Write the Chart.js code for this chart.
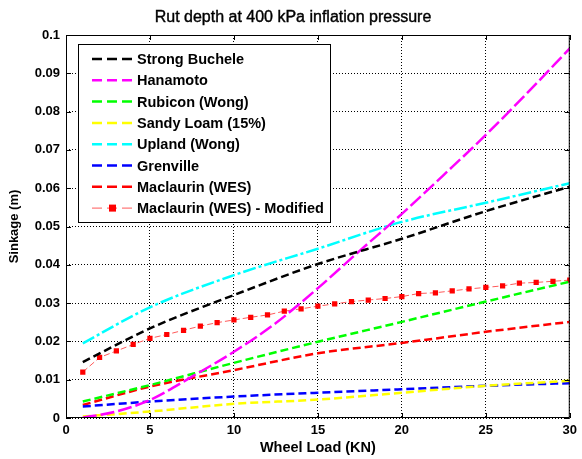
<!DOCTYPE html>
<html>
<head>
<meta charset="utf-8">
<script src="https://cdn.jsdelivr.net/npm/chart.js@4/dist/chart.umd.min.js"></script>
<style>
  html, body { margin: 0; background: #fff; }
  #wrap { width: 582px; height: 459px; }
</style>
</head>
<body>
<div id="wrap"><canvas id="c"></canvas></div>
<script>
// values (wheel load in KN, sinkage in m)
const loads = [1, 5, 10, 15, 20, 25, 30];
const strongBuchele = [0.0146, 0.0234, 0.0321, 0.0402, 0.0468, 0.0540, 0.0604];
const rubicon = [0.0043, 0.0086, 0.0144, 0.0199, 0.0251, 0.0304, 0.0356];
const sandyLoam = [0.0004, 0.0017, 0.0037, 0.0048, 0.0066, 0.0084, 0.0097];
const upland = [0.0195, 0.0289, 0.0373, 0.0442, 0.0512, 0.0562, 0.0613];
const grenville = [0.0030, 0.0043, 0.0056, 0.0066, 0.0075, 0.0084, 0.0091];
const maclaurin = [0.0034, 0.0082, 0.0125, 0.0169, 0.0196, 0.0225, 0.0251];

const hanLoads = [1, 3, 5, 7.5, 10, 12.5, 15, 17.5, 20, 22.5, 25, 27.5, 30];
const hanamoto = [0.0001, 0.0017, 0.0047, 0.0108, 0.0173, 0.0248, 0.0339, 0.0437, 0.0533, 0.0635, 0.0739, 0.0850, 0.0965];

const modLoads = [1, 2, 3, 4, 5, 6, 7, 8, 9, 10, 11, 12, 13, 14, 15, 16, 17, 18, 19, 20, 21, 22, 23, 24, 25, 26, 27, 28, 29, 30];
const maclaurinMod = [0.0120, 0.0158, 0.0175, 0.0192, 0.0208, 0.0218, 0.0229, 0.0240, 0.0249, 0.0256,
  0.0263, 0.0269, 0.0279, 0.0285, 0.0292, 0.0298, 0.0304, 0.0308, 0.0312, 0.0317,
  0.0325, 0.0327, 0.0332, 0.0337, 0.0341, 0.0345, 0.0352, 0.0354, 0.0357, 0.0360];

const xTicks = [0, 5, 10, 15, 20, 25, 30];
const yTicks = [0, 0.01, 0.02, 0.03, 0.04, 0.05, 0.06, 0.07, 0.08, 0.09, 0.1];

const pts = (xs, ys) => xs.map((x, i) => ({ x, y: ys[i] }));
const FONT = '"Liberation Sans", Arial, Helvetica, sans-serif';

const series = [
  { label: 'Strong Buchele', data: pts(loads, strongBuchele), color: '#000000', dash: [8, 4] },
  { label: 'Hanamoto', data: pts(hanLoads, hanamoto), color: '#ff00ff', dash: [14, 4] },
  { label: 'Rubicon (Wong)', data: pts(loads, rubicon), color: '#00ff00', dash: [8, 4] },
  { label: 'Sandy Loam (15%)', data: pts(loads, sandyLoam), color: '#ffff00', dash: [8, 4] },
  { label: 'Upland (Wong)', data: pts(loads, upland), color: '#00ffff', dash: [13, 3, 3, 3] },
  { label: 'Grenville', data: pts(loads, grenville), color: '#0000ff', dash: [8, 4] },
  { label: 'Maclaurin (WES)', data: pts(loads, maclaurin), color: '#ff0000', dash: [8, 4] },
];

const datasets = series.map(s => ({
  label: s.label, data: s.data, borderColor: s.color, borderDash: s.dash,
  borderWidth: 2.5, pointRadius: 0, cubicInterpolationMode: 'monotone', fill: false,
}));
datasets.push({
  label: 'Maclaurin (WES) - Modified', data: pts(modLoads, maclaurinMod),
  borderColor: '#ff5a5a', borderWidth: 1, borderDash: [6, 3],
  pointStyle: 'rect', pointRadius: 3.7, pointBackgroundColor: '#ff0000', pointBorderColor: '#ff0000',
  pointBorderWidth: 0, fill: false,
});

// box, inward ticks, legend and title in MATLAB style
const frame = {
  id: 'frame',
  afterDatasetsDraw(ch) {
    const { ctx, chartArea: a, scales: { x, y } } = ch;
    ctx.save();
    ctx.strokeStyle = '#000'; ctx.lineWidth = 1; ctx.setLineDash([]);
    ctx.strokeRect(a.left + 0.5, a.top + 0.5, a.right - a.left - 1, a.bottom - a.top - 1);
    ctx.beginPath();
    xTicks.forEach(v => {
      const px = Math.round(x.getPixelForValue(v)) + 0.5;
      ctx.moveTo(px, a.bottom); ctx.lineTo(px, a.bottom - 5);
      ctx.moveTo(px, a.top); ctx.lineTo(px, a.top + 5);
    });
    yTicks.forEach(v => {
      const py = Math.round(y.getPixelForValue(v)) + 0.5;
      ctx.moveTo(a.left, py); ctx.lineTo(a.left + 5, py);
      ctx.moveTo(a.right, py); ctx.lineTo(a.right - 5, py);
    });
    ctx.stroke();

    // legend
    const lx = 78, ly = 44, lw = 252, lh = 178;
    ctx.fillStyle = '#fff';
    ctx.fillRect(lx, ly, lw, lh);
    ctx.strokeRect(lx + 0.5, ly + 0.5, lw, lh);
    ctx.font = 'bold 14.5px ' + FONT;
    ctx.textBaseline = 'middle';
    ch.data.datasets.forEach((d, i) => {
      const yy = 59 + i * 21.3;
      const mod = i === 7;
      ctx.strokeStyle = d.borderColor;
      ctx.lineWidth = mod ? 1 : 2.5;
      ctx.setLineDash([10, 5]);
      ctx.beginPath(); ctx.moveTo(92, yy); ctx.lineTo(134, yy); ctx.stroke();
      ctx.setLineDash([]);
      if (mod) { ctx.fillStyle = '#ff0000'; ctx.fillRect(109, yy - 3.5, 7, 7); }
      ctx.fillStyle = '#000';
      ctx.fillText(d.label, 137, yy + 1);
    });

    // title
    ctx.font = '16px ' + FONT;
    ctx.textAlign = 'center';
    ctx.lineWidth = 0.4; ctx.strokeStyle = '#000';
    ctx.fillText('Rut depth at 400 kPa inflation pressure', 293, 18);
    ctx.strokeText('Rut depth at 400 kPa inflation pressure', 293, 18);
    ctx.restore();
  }
};

new Chart(document.getElementById('c'), {
  type: 'line',
  data: { datasets },
  plugins: [frame],
  options: {
    responsive: true, maintainAspectRatio: false, animation: false,
    layout: { padding: { top: 35, right: 3, left: 0, bottom: 0 } },
    plugins: { legend: { display: false }, tooltip: { enabled: false } },
    scales: {
      x: {
        type: 'linear', min: 0, max: 30,
        afterBuildTicks: s => { s.ticks = xTicks.map(v => ({ value: v })); },
        afterFit: s => { s.height = 41; },
        ticks: { color: '#000', font: { family: FONT, size: 13, weight: 'bold' }, padding: 5 },
        grid: { color: '#000', lineWidth: 1, drawTicks: false },
        border: { display: false, dash: [1, 2] },
        title: { display: true, text: 'Wheel Load (KN)', color: '#000', font: { family: FONT, size: 14.5, weight: 'bold' }, padding: { top: 0, bottom: 2 } },
      },
      y: {
        type: 'linear', min: 0, max: 0.1,
        afterBuildTicks: s => { s.ticks = yTicks.map(v => ({ value: v })); },
        afterFit: s => { s.width = 66; },
        ticks: { color: '#000', font: { family: FONT, size: 13, weight: 'bold' }, padding: 6,
          callback: v => String(Number(v.toFixed(3))) },
        grid: { color: '#000', lineWidth: 1, drawTicks: false },
        border: { display: false, dash: [1, 2] },
        title: { display: true, text: 'Sinkage (m)', color: '#000', font: { family: FONT, size: 13, weight: 'bold' }, padding: { top: 7, bottom: 0 } },
      },
    },
  },
});
</script>
</body>
</html>
